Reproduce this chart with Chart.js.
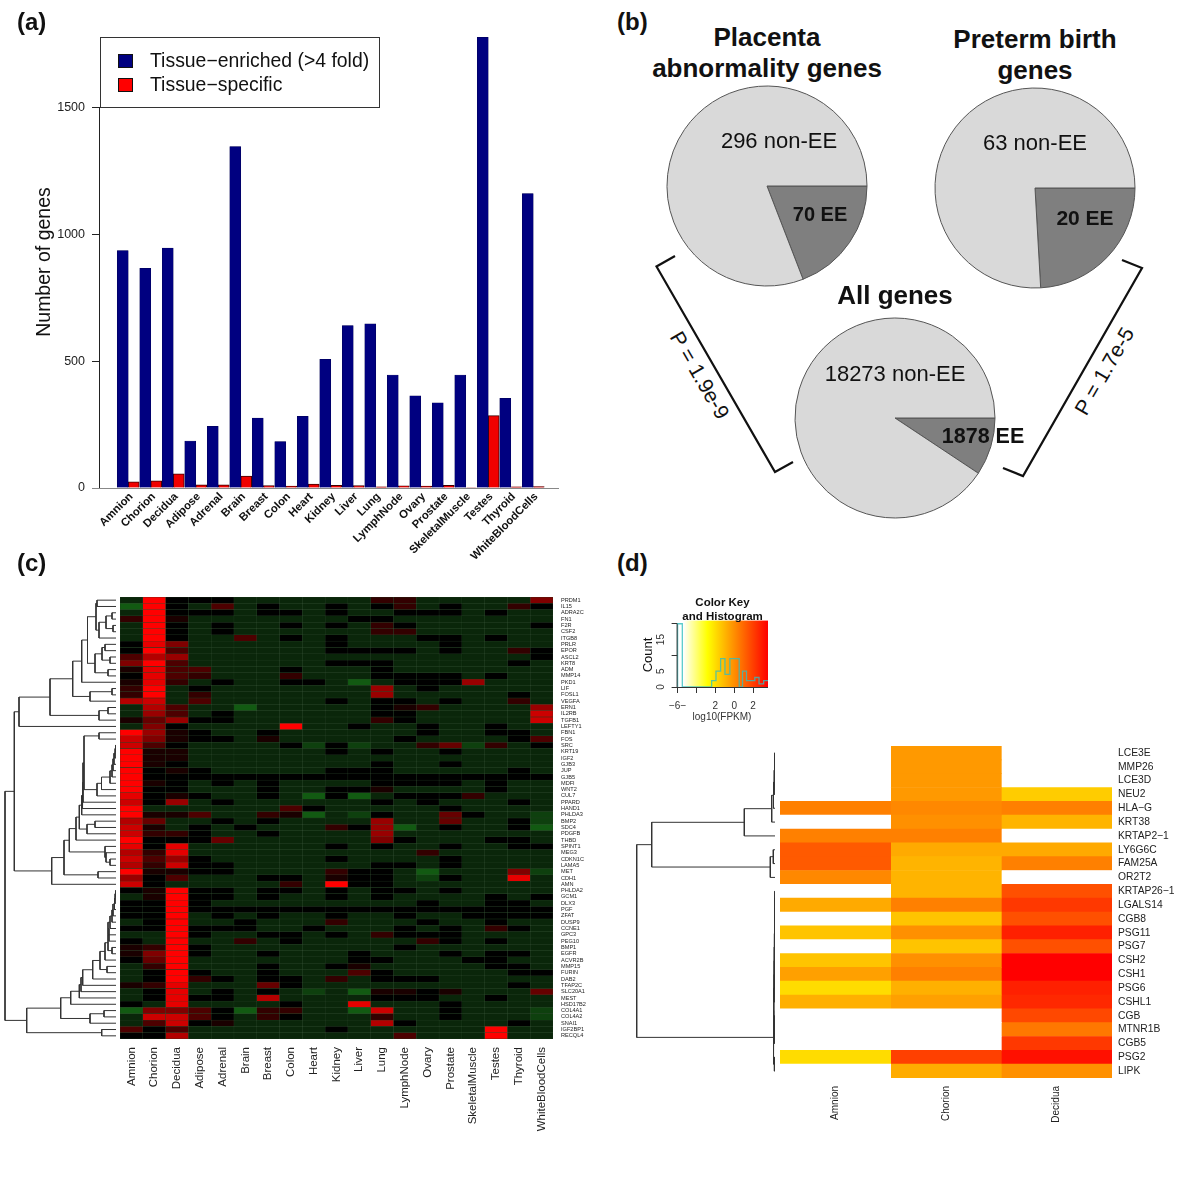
<!DOCTYPE html>
<html>
<head>
<meta charset="utf-8">
<title>Tissue-enriched genes</title>
<script src="https://cdn.jsdelivr.net/npm/chart.js@4"></script>
<style>
	html, body { margin: 0; padding: 0; background: #fff; }
	#page { position: relative; width: 1200px; height: 1182px; overflow: hidden; font-family: "Liberation Sans", Arial, sans-serif; color: #111; }
	#page canvas { position: absolute; }
	#page svg { position: absolute; left: 0; top: 0; }
	.txt { position: absolute; white-space: pre; line-height: 1; }
	#legend { position: absolute; left: 100px; top: 37px; width: 278px; height: 69px; border: 1px solid #333; background: #fff; }
	#legend i { position: absolute; left: 17px; width: 15px; height: 14px; border: 1px solid #111; box-sizing: border-box; }
</style>
</head>
<body>
<div id="page">
	<svg width="1200" height="1182">
		<polyline points="675,256 656.5,266.5 775,472 793,462" fill="none" stroke="#111" stroke-width="2.2"/>
		<polyline points="1122,260 1142,268 1023,476 1003,468" fill="none" stroke="#111" stroke-width="2.2"/>
	</svg>
	<div id="legend"><i style="top:16px;background:#000080"></i><i style="top:40px;background:#f00"></i></div>
</div>
<script>
( function() {
	'use strict';

	// panel (a)
	var TISSUES = [ 'Amnion', 'Chorion', 'Decidua', 'Adipose', 'Adrenal', 'Brain', 'Breast', 'Colon', 'Heart', 'Kidney', 'Liver', 'Lung', 'LymphNode', 'Ovary', 'Prostate', 'SkeletalMuscle', 'Testes', 'Thyroid', 'WhiteBloodCells' ];
	var ENRICHED = [ 935, 865, 945, 185, 243, 1345, 275, 183, 282, 507, 640, 647, 445, 363, 335, 445, 1775, 353, 1160 ];
	var SPECIFIC = [ 24, 28, 56, 12, 12, 47, 10, 8, 15, 11, 10, 5, 9, 8, 11, 2, 285, 5, 6 ];
	var COUNT_TICKS = [ 0, 500, 1000, 1500 ];

	// panel (b): [ EE, non-EE ]
	var PLACENTA = [ 70, 296 ];
	var PRETERM = [ 20, 63 ];
	var ALL_GENES = [ 1878, 18273 ];

	// panel (c)
	var GENES_C = [ 'PRDM1', 'IL15', 'ADRA2C', 'FN1', 'F2R', 'CSF2', 'ITGB8', 'PRLR', 'EPOR', 'ASCL2', 'KRT8', 'ADM', 'MMP14', 'PKD1', 'LIF', 'FOSL1', 'VEGFA', 'ERN1', 'IL2RB', 'TGFB1', 'LEFTY1', 'FBN1', 'FOS', 'SRC', 'KRT19', 'IGF2', 'GJB3', 'JUP', 'GJB5', 'MDFI', 'WNT2', 'CUL7', 'PPARD', 'HAND1', 'PHLDA3', 'BMP2', 'SDC4', 'PDGFB', 'THBD', 'SPINT1', 'MEG3', 'CDKN1C', 'LAMA5', 'MET', 'CDH1', 'AMN', 'PHLDA2', 'GCM1', 'DLX3', 'PGF', 'ZFAT', 'DUSP9', 'CCNE1', 'GPC3', 'PEG10', 'BMP1', 'EGFR', 'ACVR2B', 'MMP15', 'FURIN', 'DAB2', 'TFAP2C', 'SLC20A1', 'MEST', 'HSD17B2', 'COL4A1', 'COL4A2', 'SNAI1', 'IGF2BP1', 'RECQL4' ];

	// relative expression, -3 green .. 0 black .. 10 red. One row per gene, columns as TISSUES
	var HEAT_C = [
		[ -1, 10, 0, 0, 0, -1, -1, -1, -1, -1, -1, 2, 2, -1, -1, -1, -1, -1, 5 ],
		[ -3, 10, 0, -1, 3, -1, 0, -1, -1, 0, -1, 0, 2, -1, 0, -1, -1, 2, 0 ],
		[ -1, 10, 0, 0, 0, -1, 0, 0, -1, 0, -1, -1, 0, 0, 0, -1, 0, -1, -1 ],
		[ 2, 10, 1, -1, -1, -1, -1, -1, -1, -1, 0, 0, -1, -1, -1, -1, -1, -1, -1 ],
		[ -1, 10, 0, -1, 0, -1, -1, 0, -1, 0, -1, 2, 0, -1, -1, -1, -1, -1, 0 ],
		[ -1, 10, 0, -1, 0, -1, -1, -1, -1, -1, -1, 2, 2, -1, -1, -1, -1, -1, -1 ],
		[ -1, 10, 0, -1, -1, 3, -1, 0, -1, 0, -1, -1, -1, 0, 0, -1, 0, -1, -1 ],
		[ 0, 9, 5, -1, -1, -1, -1, -1, -1, 0, -1, -1, -1, -1, 0, -1, -1, -1, -1 ],
		[ 0, 10, 3, -1, -1, -1, -1, -1, -1, 0, 0, 0, 0, -1, 0, -1, -1, 2, 0 ],
		[ 3, 7, 6, -1, -1, -1, -1, -1, -1, -1, -1, -1, -1, -1, -1, -1, -1, -1, 0 ],
		[ 5, 10, 3, -1, -1, -1, -1, -1, -1, 0, 0, 0, -1, -1, -1, -1, -1, 0, -1 ],
		[ 1, 9, 3, 3, -1, -1, -1, 0, -1, -1, -1, 0, -1, -1, -1, -1, -1, -1, -1 ],
		[ 0, 9, 3, 2, -1, -1, -1, 2, -1, -1, -1, 0, 0, 0, 0, -1, 0, -1, -1 ],
		[ 1, 9, 2, -1, 0, -1, -1, 0, 0, -1, -3, -1, 0, 0, 0, 6, -1, -1, -1 ],
		[ 2, 10, -1, 0, -1, -1, -1, -1, -1, -1, -1, 6, -1, 0, -1, -1, -1, -1, -1 ],
		[ 2, 10, -1, 2, -1, -1, -1, -1, -1, -1, -1, 6, -1, -1, -1, -1, -1, 0, -1 ],
		[ 7, 8, -1, 3, -1, -1, -1, -1, -1, 0, -1, 0, 0, -1, 0, -1, -1, 2, -1 ],
		[ -1, 7, 3, -1, -1, -3, -1, -1, -1, -1, -1, 0, 1, 2, -1, -1, -1, -1, 6 ],
		[ -1, 6, 3, -1, 0, -1, -1, -1, -1, -1, -1, 0, 0, -1, -1, -1, -1, -1, 8 ],
		[ 1, 4, 6, 0, 0, -1, -1, -1, -1, -1, -1, 2, 0, -1, -1, -1, -1, -1, 8 ],
		[ -1, 5, 0, -1, -1, -1, -1, 10, -1, -1, 0, -1, -1, 0, -1, -1, 0, -1, -1 ],
		[ 10, 6, 1, 0, -1, -1, 0, -1, -1, -1, -1, -1, -1, 0, -1, -1, 0, 0, -1 ],
		[ 8, 5, 1, 0, 0, -1, 1, -1, -1, -1, -1, -1, 0, -1, -1, -1, -1, 0, 3 ],
		[ 8, 3, 0, -1, -1, -1, -1, 0, -2, 0, -2, -1, -1, 2, 4, -2, 2, -1, 0 ],
		[ 10, 1, 1, -1, -1, -1, -1, -1, -1, 0, -1, 0, -1, -1, 0, -1, -1, -1, -1 ],
		[ 10, 1, 1, -1, -1, -1, -1, -1, -1, -1, -1, -1, -1, -1, -1, -1, -1, -1, -1 ],
		[ 10, 1, 0, -1, -1, -1, -1, -1, -1, -1, -1, 0, -1, -1, 0, -1, -1, -1, -1 ],
		[ 10, 0, 1, 0, -1, -1, -1, -1, -1, 0, 0, 0, -1, -1, -1, -1, -1, 0, -1 ],
		[ 10, 0, 0, 0, 0, 0, 0, 0, 0, 0, 0, 0, 0, 0, 0, 0, 0, 0, 0 ],
		[ 10, 1, 0, -1, 0, -1, 0, -1, -1, -1, -1, 0, 0, 0, 0, -1, 0, -1, -1 ],
		[ 10, 0, 0, -1, -1, -1, 0, -1, -1, 0, 0, 1, -1, -1, -1, -1, 0, -1, -1 ],
		[ 9, 0, 1, 0, -1, -1, 0, -1, -3, 0, -3, -1, 0, 0, 0, 2, -1, -1, -1 ],
		[ 8, 0, 6, -1, 0, -1, -1, -1, -1, -1, -1, 0, -1, 0, -1, -1, -1, 0, -1 ],
		[ 10, -1, -1, -1, -1, -1, -1, 3, 0, -1, -1, -1, -1, -1, 0, -1, -1, -1, -1 ],
		[ 10, 1, 1, 3, -1, -1, 2, 1, -3, -1, -2, 0, -1, -1, 4, 0, -1, -1, -2 ],
		[ 7, 4, -1, -1, 0, -1, 0, -1, -1, -1, -1, 6, -1, -1, 4, -1, -1, 0, -2 ],
		[ 8, 1, -1, 0, -1, 0, -1, -1, -1, 2, 0, 6, -3, -1, 0, -1, -1, 0, -3 ],
		[ 8, 2, 2, 0, -1, -1, 0, -1, -1, -1, -1, 6, -1, -1, -1, -1, -1, -1, -1 ],
		[ 10, 0, 0, 0, 4, -1, -1, -1, -1, -1, -1, 5, 0, -1, -1, -1, 0, 0, -1 ],
		[ 9, 0, 9, -1, -1, -1, -1, -1, -1, 0, -1, 0, -1, -1, 0, -1, -1, 0, 0 ],
		[ 7, 2, 9, -1, -1, -1, -1, -1, -1, -1, -1, -1, -1, 2, -1, -1, -1, -1, -1 ],
		[ 8, 3, 6, 0, -1, -1, -1, -1, -1, 0, -1, -1, -1, -1, 0, -1, -1, -1, -1 ],
		[ 7, 2, 8, 0, 0, -1, -1, -1, -1, -1, -1, 0, 0, -1, 0, -1, -1, -1, -1 ],
		[ 10, 1, 1, 0, 0, -1, -1, -1, -1, 2, 0, 0, -1, -3, -1, -1, -1, 5, -2 ],
		[ 6, 0, 3, -1, -1, -1, 0, 0, -1, 1, 0, 0, -1, -2, 0, -1, -1, 9, -1 ],
		[ 8, 0, -1, -1, -1, -1, -1, 2, -1, 10, 0, 0, -1, -1, -1, -1, -1, -1, -1 ],
		[ 0, 1, 10, 0, 0, -1, 0, 0, -1, 0, -1, 0, 0, -1, 0, -1, -1, -1, -1 ],
		[ -1, 1, 10, 0, 0, -1, 0, -1, -1, 0, -1, 0, -1, -1, -1, -1, 0, -1, 0 ],
		[ 0, 0, 10, 0, -1, -1, -1, -1, -1, -1, -1, -1, -1, 0, -1, -1, 0, 0, -1 ],
		[ 0, 0, 10, 0, 0, 0, 0, 0, 0, 0, 0, 0, 0, 0, 0, 0, 0, 0, 0 ],
		[ 0, 0, 10, -1, 0, -1, 0, -1, -1, 0, -1, -1, 0, -1, -1, 0, 0, 0, 0 ],
		[ -1, 0, 10, -1, -1, 0, -1, -1, -1, 2, -1, -1, -1, 0, -1, -1, 0, -1, -1 ],
		[ 0, 0, 10, 0, 0, 0, -1, -1, 0, -1, -1, -1, 0, -1, 0, -1, 2, 0, -1 ],
		[ -1, -1, 10, 0, -1, -1, 0, 0, -1, 0, -1, 2, 0, 0, 0, -1, -1, -1, -1 ],
		[ 0, -1, 10, -1, -1, 2, -1, 0, -1, -1, -1, -1, -1, 2, 0, -1, 0, -1, -1 ],
		[ 1, 2, 10, 0, -1, -1, -1, -1, -1, -1, -1, -1, 0, -1, -1, -1, -1, -1, -1 ],
		[ 1, 5, 10, 0, -1, -1, 0, -1, -1, -1, 0, -1, -1, -1, 0, -1, 0, 0, -1 ],
		[ 0, 4, 10, -1, -1, -1, -1, -1, -1, -1, 0, 0, -1, -1, -1, 0, 0, -1, -1 ],
		[ -1, 2, 10, -1, -1, -1, 0, -1, -1, 0, 1, -1, -1, -1, -1, -1, 0, 0, -1 ],
		[ -1, 0, 10, 0, -1, -1, 0, -1, -1, -1, 3, 0, -1, -1, -1, -1, -1, 0, 0 ],
		[ -1, 0, 10, 2, 0, -1, 0, 0, -1, 2, -1, 0, 0, 0, -1, -1, -1, -1, -1 ],
		[ 1, 2, 9, -1, -1, -1, 4, 0, -1, -1, -1, -1, -1, -1, -1, -1, -1, 0, -1 ],
		[ -1, 0, 9, -1, 0, -1, 0, -1, -2, -1, -3, 1, 1, 0, 1, -1, -1, -1, 4 ],
		[ -1, 0, 9, 0, 0, -1, 7, -1, -1, -1, -1, 0, 0, 0, -1, -1, 0, -1, -1 ],
		[ 0, -1, 9, -1, -1, -1, -1, 0, -1, -1, 9, -1, -1, -1, 0, -1, -1, -1, -1 ],
		[ -3, 5, 5, 3, 0, -3, 2, 2, -1, -1, -3, 8, -1, -1, 0, -1, -1, -1, -2 ],
		[ -1, 8, 8, 3, 0, -1, 2, 0, -1, -1, -1, 2, -1, -1, 0, -1, -1, -1, -2 ],
		[ -1, 3, 8, 0, 1, -1, -1, -1, -1, -1, -1, 7, 0, -1, -1, -1, -1, 0, -1 ],
		[ 3, 0, 3, -1, -1, -1, -1, -1, -1, 0, -1, -1, -1, -1, -1, -1, 10, -1, -1 ],
		[ 0, 0, 7, -1, -1, -1, -1, -1, -1, -1, -1, -1, 3, -1, -1, -1, 10, -1, -1 ]
	];

	// dendrogram merges [ left, right, height ]. Numbers under 100 are rows, 100+n is merge n
	var TREE_C = [
		[ 0, 1, 19 ],
		[ 2, 3, 4 ],
		[ 4, 5, 3 ],
		[ 101, 102, 10 ],
		[ 103, 6, 17 ],
		[ 100, 104, 20 ],
		[ 7, 8, 11 ],
		[ 9, 10, 6 ],
		[ 106, 107, 14 ],
		[ 11, 12, 8 ],
		[ 108, 109, 21 ],
		[ 105, 110, 28.5 ],
		[ 111, 13, 34.3 ],
		[ 14, 15, 4 ],
		[ 113, 16, 26 ],
		[ 112, 114, 43.3 ],
		[ 17, 18, 8 ],
		[ 116, 19, 17 ],
		[ 115, 117, 66 ],
		[ 118, 20, 97 ],
		[ 21, 22, 17 ],
		[ 23, 24, 0.5 ],
		[ 121, 25, 1 ],
		[ 122, 26, 2 ],
		[ 123, 27, 3 ],
		[ 124, 28, 4 ],
		[ 125, 29, 6 ],
		[ 126, 30, 14.5 ],
		[ 127, 31, 19 ],
		[ 120, 128, 32 ],
		[ 129, 32, 33 ],
		[ 130, 33, 33.5 ],
		[ 131, 34, 34.3 ],
		[ 35, 36, 21 ],
		[ 133, 37, 29 ],
		[ 132, 134, 36.7 ],
		[ 135, 38, 40 ],
		[ 41, 42, 6 ],
		[ 40, 137, 10 ],
		[ 39, 138, 11 ],
		[ 136, 139, 46.7 ],
		[ 43, 44, 18 ],
		[ 140, 141, 52 ],
		[ 142, 45, 64.3 ],
		[ 119, 143, 101.7 ],
		[ 46, 47, 0.5 ],
		[ 145, 48, 1 ],
		[ 146, 49, 1.5 ],
		[ 147, 50, 3 ],
		[ 148, 51, 4 ],
		[ 149, 52, 6 ],
		[ 150, 53, 8 ],
		[ 151, 54, 7 ],
		[ 55, 56, 4 ],
		[ 152, 153, 8 ],
		[ 154, 57, 11 ],
		[ 58, 59, 9 ],
		[ 155, 156, 16 ],
		[ 157, 60, 23.3 ],
		[ 158, 61, 33.3 ],
		[ 159, 62, 35 ],
		[ 160, 63, 36.7 ],
		[ 161, 64, 45.3 ],
		[ 65, 66, 12 ],
		[ 163, 67, 26 ],
		[ 162, 164, 55.3 ],
		[ 68, 69, 14.3 ],
		[ 165, 166, 89.3 ],
		[ 144, 167, 111 ]
	];

	// panel (d)
	var SAMPLES_D = [ 'Amnion', 'Chorion', 'Decidua' ];
	var GENES_D = [ 'LCE3E', 'MMP26', 'LCE3D', 'NEU2', 'HLA\u2212G', 'KRT38', 'KRTAP2\u22121', 'LY6G6C', 'FAM25A', 'OR2T2', 'KRTAP26\u22121', 'LGALS14', 'CGB8', 'PSG11', 'PSG7', 'CSH2', 'CSH1', 'PSG6', 'CSHL1', 'CGB', 'MTNR1B', 'CGB5', 'PSG2', 'LIPK' ];
	var HEAT_D = [
		[ null, -0.27, null ],
		[ null, -0.27, null ],
		[ null, -0.27, null ],
		[ null, -0.27, -1.56 ],
		[ 0.36, 0.16, 0.36 ],
		[ null, -0.05, -0.95 ],
		[ 0.36, 0.36, null ],
		[ 1.31, -0.7, -0.7 ],
		[ 1.31, -0.95, 0.36 ],
		[ 0.16, -0.95, null ],
		[ null, -0.95, 1.57 ],
		[ -0.7, 0.36, 2.17 ],
		[ null, -1.36, 1.57 ],
		[ -1.36, -0.05, 2.77 ],
		[ null, -1.36, 1.57 ],
		[ -1.36, -0.05, 3.58 ],
		[ -0.45, 0.36, 3.58 ],
		[ -1.96, -0.85, 2.77 ],
		[ -0.85, -0.45, 2.57 ],
		[ null, null, 1.77 ],
		[ null, null, 0.56 ],
		[ null, null, 2.17 ],
		[ -1.96, 1.97, 3.18 ],
		[ null, -0.75, -0.05 ]
	];
	var TREE_D = [
		[ 0, 1, 0.3 ],
		[ 100, 2, 0.5 ],
		[ 101, 3, 0.8 ],
		[ 102, 4, 1.5 ],
		[ 103, 5, 3.3 ],
		[ 104, 6, 30.7 ],
		[ 7, 8, 1.7 ],
		[ 106, 9, 4.7 ],
		[ 105, 107, 123.3 ],
		[ 10, 11, 0.2 ],
		[ 109, 12, 0.3 ],
		[ 110, 13, 0.4 ],
		[ 111, 14, 0.5 ],
		[ 112, 15, 0.6 ],
		[ 113, 16, 0.7 ],
		[ 114, 17, 0.8 ],
		[ 115, 18, 0.9 ],
		[ 19, 20, 0.5 ],
		[ 117, 21, 0.7 ],
		[ 116, 118, 1.2 ],
		[ 22, 23, 0.6 ],
		[ 119, 120, 1.5 ],
		[ 108, 121, 138.3 ]
	];

	// colour key and histogram
	var KEY_TICKS = [ -6, -4, -2, 0, 2 ];
	var KEY_TICK_LABELS = [ '\u22126\u2212', '', '2', '0', '2' ];
	var KEY_COUNT_MARKS = [ 0, 5, 10, 15, 20 ];
	var KEY_COUNT_TICKS = [ 0, 5, 15 ];
	var HIST_X = [ -6, -6, -5.5, -2.39, -1.93, -1.44, -0.98, -0.46, 0.53, 0.88, 1.3, 2.18, 2.63, 3.12, 3.58 ];
	var HIST_Y = [ 0, 20, 0, 2, 5, 9, 4, 9, 0, 5, 2, 3, 1, 2, 2 ];
	var KEY_STOPS = [ -5.4, -2.84, 3.58 ];
	var KEY_COLORS = [ '#ffffff', '#ffff00', '#ff0000' ];

	var FONT = '"Liberation Sans", Arial, sans-serif';
	var page = document.getElementById( 'page' );

	Chart.defaults.font.family = FONT;
	Chart.defaults.color = '#222';
	Chart.defaults.animation = false;
	Chart.defaults.responsive = false;
	Chart.defaults.devicePixelRatio = 1;
	Chart.defaults.plugins.legend.display = false;
	Chart.defaults.plugins.tooltip.enabled = false;

	/**
	 * Add a chart on its own canvas at a fixed place on the page.
	 */
	function addChart( left, top, width, height, config ) {
		var canvas = document.createElement( 'canvas' );
		canvas.width = width;
		canvas.height = height;
		canvas.style.left = left + 'px';
		canvas.style.top = top + 'px';
		page.appendChild( canvas );
		return new Chart( canvas, config );
	}

	/**
	 * Add a text label, centred on x, y unless anchor says otherwise.
	 */
	function addText( text, x, y, size, opts ) {
		opts = opts || {};
		var el = document.createElement( 'div' );
		el.className = 'txt';
		el.textContent = text;
		el.style.left = x + 'px';
		el.style.top = y + 'px';
		el.style.fontSize = size + 'px';
		if ( opts.bold ) {
			el.style.fontWeight = 'bold';
		}
		if ( opts.color ) {
			el.style.color = opts.color;
		}
		var shift = opts.anchor === 'left' ? '0' : '-50%';
		el.style.transform = 'translate(' + shift + ',-50%) rotate(' + ( opts.rotate || 0 ) + 'deg)';
		page.appendChild( el );
	}

	// Fixed axis sizes so the plot areas land where the reference has them.
	function fixHeight( h ) {
		return function( scale ) {
			scale.height = h;
			scale.paddingLeft = scale.paddingRight = 0;
		};
	}

	function fixWidth( w ) {
		return function( scale ) {
			scale.width = w;
			scale.paddingTop = scale.paddingBottom = 0;
		};
	}

	function ticksAt( values ) {
		return function( scale ) {
			scale.ticks = values.map( function( v ) {
				return { value: v };
			} );
		};
	}

	function heatColorC( v ) {
		if ( v < 0 ) {
			return 'rgb(' + ( 6 + v * -4 ) + ',' + ( 12 + v * -26 ) + ',' + ( 6 + v * -4 ) + ')';
		}
		return 'rgb(' + Math.round( v * 25.5 ) + ',0,0)';
	}

	function heatColorD( v ) {
		if ( v === null ) {
			return '#fff';
		}
		return 'rgb(255,' + Math.round( 255 * ( 3.58 - v ) / 6.42 ) + ',0)';
	}

	/**
	 * Turn a merge table into line points: y of a node is the middle of its children.
	 */
	function treePoints( tree ) {
		var nodes = [];
		var pts = [];
		function at( id ) {
			return id >= 100 ? nodes[ id - 100 ] : { x: 0, y: id };
		}
		tree.forEach( function( m ) {
			var a = at( m[ 0 ] );
			var b = at( m[ 1 ] );
			var h = m[ 2 ];
			pts.push( { x: a.x, y: a.y }, { x: h, y: a.y }, { x: h, y: b.y }, { x: b.x, y: b.y }, { x: NaN, y: NaN } );
			nodes.push( { x: h, y: ( a.y + b.y ) / 2 } );
		} );
		return pts;
	}

	function addTree( left, top, width, height, rows, tree, color ) {
		return addChart( left, top, width, height, {
			type: 'scatter',
			data: {
				datasets: [ {
					data: treePoints( tree ),
					showLine: true,
					spanGaps: false,
					pointRadius: 0,
					borderWidth: 1,
					borderColor: color,
					clip: false
				} ]
			},
			options: {
				scales: {
					x: { display: false, type: 'linear', reverse: true, min: 0, max: width },
					y: { display: false, type: 'linear', reverse: true, min: -0.5, max: rows - 0.5 }
				}
			}
		} );
	}

	/**
	 * Heatmap as stacked horizontal bars, one dataset per column, one unit wide.
	 */
	function addHeat( left, top, areaW, areaH, labelW, labelH, opts ) {
		var columns = opts.columns;
		var datasets = columns.map( function( name, c ) {
			return {
				label: name,
				data: opts.rows.map( function() {
					return 1;
				} ),
				backgroundColor: opts.rows.map( function( row ) {
					return opts.color( row[ c ] );
				} ),
				borderColor: opts.sep || 'transparent',
				borderWidth: opts.sep ? 0.5 : 0,
				borderSkipped: false,
				barPercentage: 1,
				categoryPercentage: 1
			};
		} );
		return addChart( left, top, areaW + labelW, areaH + labelH, {
			type: 'bar',
			data: { labels: opts.genes, datasets: datasets },
			options: {
				indexAxis: 'y',
				layout: { padding: 0 },
				scales: {
					x: {
						type: 'linear',
						stacked: true,
						min: 0,
						max: columns.length,
						offset: false,
						position: 'bottom',
						grid: { display: false, drawTicks: false },
						border: { display: false },
						afterBuildTicks: function( scale ) {
							scale.ticks = columns.map( function( n, i ) {
								return { value: i + 0.5 };
							} );
						},
						afterFit: fixHeight( labelH ),
						ticks: {
							autoSkip: false,
							minRotation: 90,
							maxRotation: 90,
							padding: opts.xPad,
							color: opts.xColor,
							font: { size: opts.xFont },
							callback: function( value ) {
								return columns[ Math.floor( value ) ];
							}
						}
					},
					y: {
						type: 'category',
						stacked: true,
						position: 'right',
						grid: { display: false, drawTicks: false },
						border: { display: false },
						afterFit: fixWidth( labelW ),
						ticks: {
							autoSkip: false,
							padding: opts.yPad,
							color: '#222',
							font: { size: opts.yFont }
						}
					}
				}
			},
			plugins: [ {
				id: 'heatBack',
				beforeDatasetsDraw: function( chart ) {
					var a = chart.chartArea;
					chart.ctx.fillStyle = opts.back;
					chart.ctx.fillRect( a.left, a.top, a.width, a.height );
				}
			} ]
		} );
	}

	function addPie( cx, cy, values ) {
		return addChart( cx - 103, cy - 103, 206, 206, {
			type: 'doughnut',
			data: {
				labels: [ 'EE', 'non-EE' ],
				datasets: [ {
					data: values,
					backgroundColor: [ '#7f7f7f', '#d9d9d9' ],
					borderColor: '#555',
					borderWidth: 1
				} ]
			},
			options: {
				cutout: 0,
				radius: 100,
				rotation: 90,
				layout: { padding: 0 }
			}
		} );
	}

	// (a) bars
	function groupedSeries( values ) {
		return values.map( function( v, i ) {
			return { x: i, y: v };
		} );
	}

	addChart( 0, 0, 580, 570, {
		type: 'bar',
		data: {
			datasets: [
				{ label: 'Tissue\u2212enriched (>4 fold)', data: groupedSeries( ENRICHED ), backgroundColor: '#000080', borderColor: '#000050', borderWidth: 0.5, barThickness: 11 },
				{ label: 'Tissue\u2212specific', data: groupedSeries( SPECIFIC ), backgroundColor: '#f00000', borderColor: '#400000', borderWidth: 1, barThickness: 11 }
			]
		},
		options: {
			layout: { padding: { top: 31, right: 21, left: 0, bottom: 0 } },
			scales: {
				x: {
					type: 'linear',
					offset: false,
					min: -1.2556,
					max: 19.144,
					grid: { display: false, drawTicks: false },
					border: { display: false },
					afterBuildTicks: function( scale ) {
						scale.ticks = TISSUES.map( function( n, i ) {
							return { value: i };
						} );
					},
					afterFit: fixHeight( 82 ),
					ticks: {
						autoSkip: false,
						minRotation: 45,
						maxRotation: 45,
						padding: 2,
						labelOffset: 3,
						color: '#111',
						font: { size: 11.3, weight: 'bold' },
						callback: function( value ) {
							return TISSUES[ value ];
						}
					}
				},
				y: {
					min: 0,
					max: 1800,
					grid: { drawOnChartArea: false, tickLength: 8, tickColor: '#222' },
					border: { display: false },
					afterBuildTicks: ticksAt( COUNT_TICKS ),
					afterFit: fixWidth( 100 ),
					ticks: {
						padding: 7,
						color: '#222',
						font: { size: 12.5 },
						callback: function( value ) {
							return String( value );
						}
					}
				}
			}
		},
		plugins: [ {
			id: 'baseAxes',
			afterDraw: function( chart ) {
				var ctx = chart.ctx;
				var y = chart.scales.y;
				var a = chart.chartArea;
				ctx.save();
				ctx.strokeStyle = '#222';
				ctx.lineWidth = 1;
				ctx.beginPath();
				ctx.moveTo( a.left - 0.5, y.getPixelForValue( COUNT_TICKS[ 0 ] ) );
				ctx.lineTo( a.left - 0.5, y.getPixelForValue( COUNT_TICKS[ COUNT_TICKS.length - 1 ] ) );
				ctx.stroke();
				ctx.strokeStyle = '#888';
				ctx.beginPath();
				ctx.moveTo( a.left - 8, y.getPixelForValue( 0 ) + 0.5 );
				ctx.lineTo( a.right, y.getPixelForValue( 0 ) + 0.5 );
				ctx.stroke();
				ctx.restore();
			}
		} ]
	} );

	// (b) pies
	addPie( 767, 186, PLACENTA );
	addPie( 1035, 188, PRETERM );
	addPie( 895, 418, ALL_GENES );

	// (c)
	addHeat( 120, 597, 433, 442, 50, 100, {
		columns: TISSUES,
		genes: GENES_C,
		rows: HEAT_C,
		color: heatColorC,
		sep: 'rgba(110,140,110,0.25)',
		back: '#0a260a',
		xFont: 11.5,
		xPad: 8,
		xColor: '#222',
		yFont: 5.6,
		yPad: 8
	} );
	addTree( 0, 597, 116, 442, GENES_C.length, TREE_C, '#333' );

	// (d)
	addHeat( 779.5, 746, 332.5, 332, 90, 60, {
		columns: SAMPLES_D,
		genes: GENES_D,
		rows: HEAT_D,
		color: heatColorD,
		back: '#fff',
		xFont: 10,
		xPad: 8,
		xColor: '#222',
		yFont: 10.3,
		yPad: 6
	} );
	addTree( 0, 746, 775, 332, GENES_D.length, TREE_D, '#333' );

	// colour key
	addChart( 640, 600, 150, 130, {
		type: 'scatter',
		data: {
			datasets: [ {
				data: HIST_X.map( function( x, i ) {
					return { x: x, y: HIST_Y[ i ] };
				} ),
				showLine: true,
				stepped: 'before',
				pointRadius: 0,
				borderWidth: 1.3,
				borderColor: 'rgba(50,190,190,0.8)',
				clip: false
			} ]
		},
		options: {
			layout: { padding: { top: 20.6, right: 22, left: 0, bottom: 0 } },
			scales: {
				x: {
					type: 'linear',
					min: -6,
					max: 3.58,
					grid: { display: true, drawOnChartArea: false, tickLength: 6, tickColor: '#333' },
					border: { display: false },
					afterBuildTicks: ticksAt( KEY_TICKS ),
					afterFit: fixHeight( 43 ),
					ticks: {
						autoSkip: false,
						maxRotation: 0,
						padding: 7,
						color: '#333',
						font: { size: 10 },
						callback: function( value ) {
							return KEY_TICK_LABELS[ KEY_TICKS.indexOf( value ) ];
						}
					}
				},
				y: {
					min: 0,
					max: 21,
					grid: { drawOnChartArea: false, tickLength: 6, tickColor: '#333' },
					border: { display: false },
					afterBuildTicks: ticksAt( KEY_COUNT_MARKS ),
					afterFit: fixWidth( 37.6 ),
					ticks: {
						callback: function() {
							return '';
						}
					}
				}
			}
		},
		plugins: [ {
			id: 'keyGradient',
			beforeDatasetsDraw: function( chart ) {
				var a = chart.chartArea;
				var x = chart.scales.x;
				var grad = chart.ctx.createLinearGradient( x.getPixelForValue( KEY_STOPS[ 0 ] ), 0, x.getPixelForValue( KEY_STOPS[ KEY_STOPS.length - 1 ] ), 0 );
				KEY_STOPS.forEach( function( v, i ) {
					grad.addColorStop( ( v - KEY_STOPS[ 0 ] ) / ( KEY_STOPS[ KEY_STOPS.length - 1 ] - KEY_STOPS[ 0 ] ), KEY_COLORS[ i ] );
				} );
				chart.ctx.fillStyle = grad;
				chart.ctx.fillRect( a.left, a.top, a.width, a.height );
			},
			afterDraw: function( chart ) {
				var ctx = chart.ctx;
				var x = chart.scales.x;
				var y = chart.scales.y;
				var a = chart.chartArea;
				ctx.save();
				ctx.strokeStyle = '#333';
				ctx.beginPath();
				ctx.moveTo( a.left, y.getPixelForValue( 0 ) + 0.5 );
				ctx.lineTo( x.getPixelForValue( KEY_STOPS[ KEY_STOPS.length - 1 ] ), y.getPixelForValue( 0 ) + 0.5 );
				ctx.moveTo( a.left - 0.5, y.getPixelForValue( KEY_COUNT_MARKS[ 0 ] ) );
				ctx.lineTo( a.left - 0.5, y.getPixelForValue( KEY_COUNT_MARKS[ KEY_COUNT_MARKS.length - 1 ] ) );
				ctx.stroke();
				// R keeps these tick labels upright along the axis
				ctx.fillStyle = '#333';
				ctx.font = '10px ' + FONT;
				ctx.textAlign = 'center';
				ctx.textBaseline = 'middle';
				KEY_COUNT_TICKS.forEach( function( v ) {
					ctx.save();
					ctx.translate( a.left - 16, y.getPixelForValue( v ) );
					ctx.rotate( -Math.PI / 2 );
					ctx.fillText( String( v ), 0, 0 );
					ctx.restore();
				} );
				ctx.restore();
			}
		} ]
	} );

	// text around the charts
	addText( '(a)', 17, 22, 24, { bold: true, anchor: 'left' } );
	addText( '(b)', 617, 22, 24, { bold: true, anchor: 'left' } );
	addText( '(c)', 17, 563, 24, { bold: true, anchor: 'left' } );
	addText( '(d)', 617, 563, 24, { bold: true, anchor: 'left' } );

	addText( 'Number of genes', 44, 262, 19.5, { rotate: -90 } );
	addText( 'Tissue\u2212enriched (>4 fold)', 150, 61, 19.4, { anchor: 'left' } );
	addText( 'Tissue\u2212specific', 150, 85, 19.4, { anchor: 'left' } );

	addText( 'Placenta', 767, 37, 26, { bold: true } );
	addText( 'abnormality genes', 767, 68, 26, { bold: true } );
	addText( 'Preterm birth', 1035, 39, 26, { bold: true } );
	addText( 'genes', 1035, 70, 26, { bold: true } );
	addText( 'All genes', 895, 295, 26, { bold: true } );
	addText( '296 non-EE', 779, 141, 22 );
	addText( '70 EE', 820, 214, 20, { bold: true } );
	addText( '63 non-EE', 1035, 143, 22 );
	addText( '20 EE', 1085, 217, 21, { bold: true } );
	addText( '18273 non-EE', 895, 374, 22 );
	addText( '1878 EE', 983, 437, 21.5, { bold: true } );
	addText( 'P = 1.9e-9', 700, 375, 21, { rotate: 60 } );
	addText( 'P = 1.7e-5', 1104, 371, 21, { rotate: -60 } );

	addText( 'Color Key', 722.5, 603, 11.5, { bold: true } );
	addText( 'and Histogram', 722.5, 617, 11.5, { bold: true } );
	addText( 'Count', 647, 655, 13, { rotate: -90 } );
	addText( 'log10(FPKM)', 722, 717, 10, { color: '#333' } );
} )();
</script>
</body>
</html>
